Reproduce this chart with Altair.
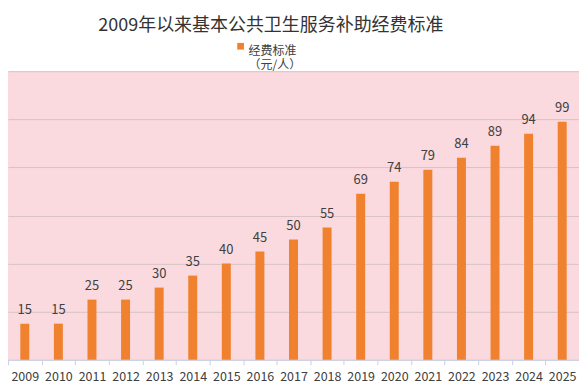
import altair as alt
import pandas as pd

years = [str(y) for y in range(2009, 2026)]
values = [15, 15, 25, 25, 30, 35, 40, 45, 50, 55, 69, 74, 79, 84, 89, 94, 99]
series = "经费标准"

df = pd.DataFrame({"year": years, "value": values, "series": [series] * len(years)})

FONT = "Noto Sans CJK SC"
ORANGE = "#F0822F"
TEXT = "#404040"

base = alt.Chart(df)

bars = base.mark_bar(size=9, color=ORANGE).encode(
    x=alt.X("year:N", sort=years, title=None,
            scale=alt.Scale(paddingInner=0, paddingOuter=0),
            axis=alt.Axis(labelAngle=0, labelFont=FONT, labelFontSize=12.5, labelColor=TEXT,
                          labelPadding=6, domainColor="#C5D2E8", tickColor="#C5D2E8",
                          tickBand="extent", tickSize=5, grid=False)),
    y=alt.Y("value:Q", title=None,
            scale=alt.Scale(domain=[0, 120], nice=False),
            axis=alt.Axis(values=[0, 20, 40, 60, 80, 100, 120], labels=False, ticks=False,
                          domain=False, grid=True, gridColor="#D9C2C5", gridWidth=1)),
    color=alt.Color("series:N", scale=alt.Scale(range=[ORANGE]),
                    legend=alt.Legend(orient="none", legendX=227, legendY=-31, title=None,
                                      symbolType="square", symbolSize=45, symbolStrokeWidth=0,
                                      labelFont=FONT, labelFontSize=12, labelColor=TEXT,
                                      labelExpr="['经费标准', '（元/人）']",
                                      labelBaseline="top", labelOffset=2)),
)

labels = base.mark_text(baseline="alphabetic", dy=-10, font=FONT, fontSize=13, color=TEXT).encode(
    x=alt.X("year:N", sort=years),
    y=alt.Y("value:Q"),
    text=alt.Text("value:Q"),
)

chart = (bars + labels).properties(
    width=572,
    height=289,
    title=alt.TitleParams("2009年以来基本公共卫生服务补助经费标准", font=FONT, fontSize=18,
                          fontWeight="normal", color="#333333", anchor="start", dx=91, offset=5),
    autosize=alt.AutoSizeParams(type="none"),
    padding={"left": 0, "top": 63, "right": 0, "bottom": 30},
).configure(background="white").configure_view(fill="#FADADE", stroke=None)

chart.save("out.html", embed_options={"renderer": "svg", "actions": False})
